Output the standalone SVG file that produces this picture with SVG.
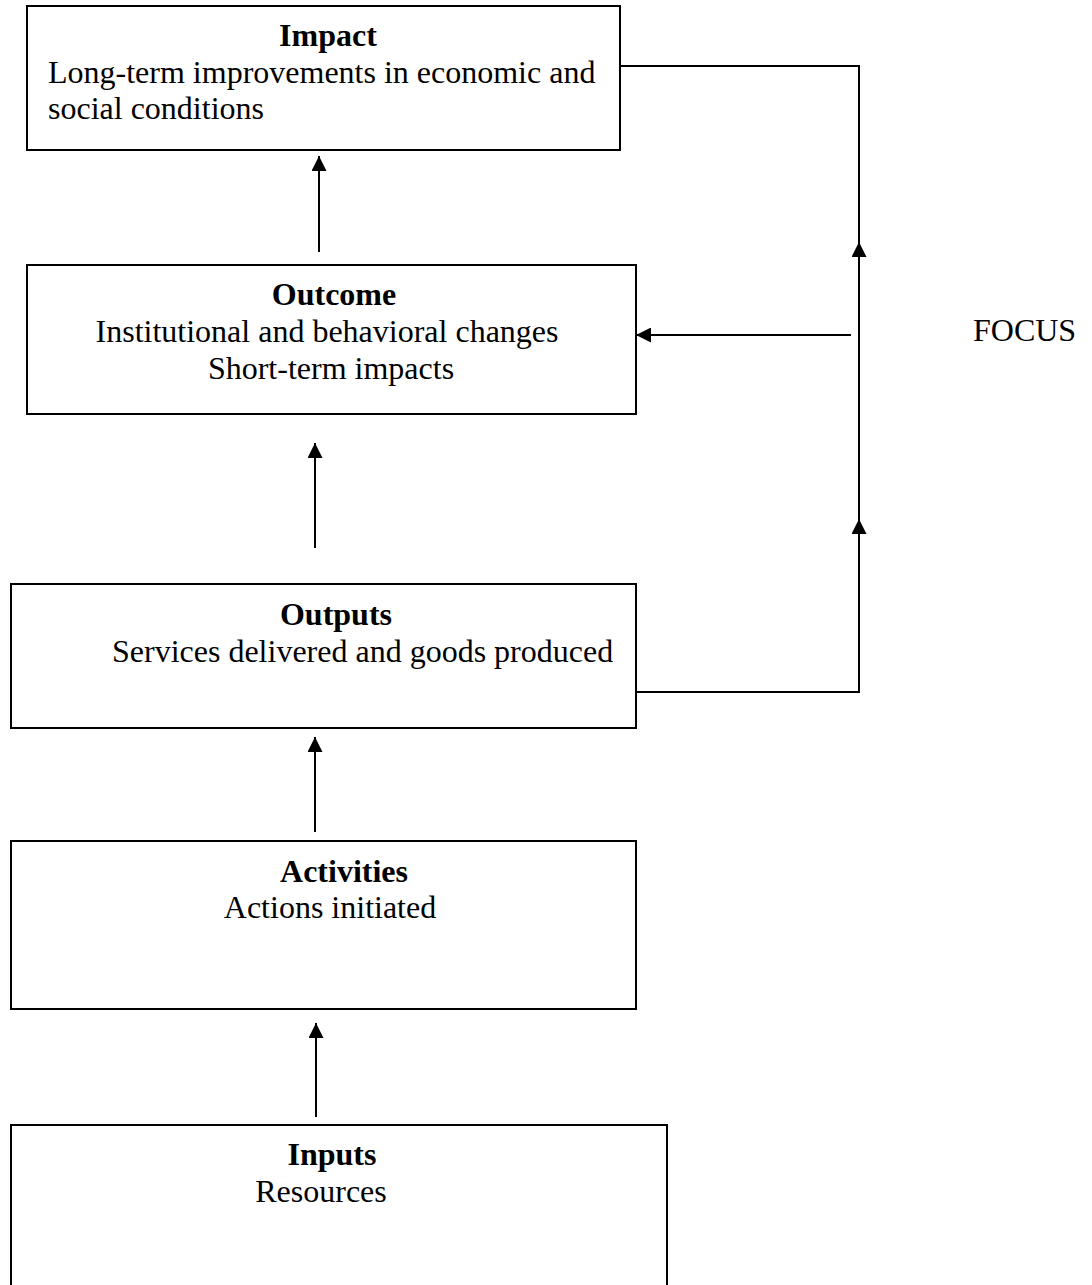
<svg xmlns="http://www.w3.org/2000/svg" width="1092" height="1285" viewBox="0 0 1092 1285">
<style>
.box{fill:#fff;stroke:#000;stroke-width:2}
.t{font-family:"Liberation Serif","Times New Roman",serif;font-size:32px;fill:#000}
.b{font-weight:bold}
.m{text-anchor:middle}
.c{fill:none;stroke:#000;stroke-width:2}
</style>
<defs>
<marker id="ah" viewBox="0 0 15 15" refX="15" refY="7.5" markerWidth="15" markerHeight="15" markerUnits="userSpaceOnUse" orient="auto">
<path d="M0,0 L15,7.5 L0,15 z" fill="#000"/>
</marker>
</defs>
<rect width="1092" height="1285" fill="#fff"/>
<g id="impact">
<rect class="box" x="27" y="6" width="593" height="144"/>
<text class="t b m" x="328" y="46">Impact</text>
<text class="t" x="48" y="83">Long-term improvements in economic and</text>
<text class="t" x="48" y="119">social conditions</text>
</g>
<g id="outcome">
<rect class="box" x="27" y="265" width="609" height="149"/>
<text class="t b m" x="334" y="305">Outcome</text>
<text class="t m" x="327" y="342">Institutional and behavioral changes</text>
<text class="t m" x="331" y="379">Short-term impacts</text>
</g>
<g id="outputs">
<rect class="box" x="11" y="584" width="625" height="144"/>
<text class="t b m" x="336" y="625">Outputs</text>
<text class="t" x="112" y="662">Services delivered and goods produced</text>
</g>
<g id="activities">
<rect class="box" x="11" y="841" width="625" height="168"/>
<text class="t b m" x="344" y="882">Activities</text>
<text class="t m" x="330" y="918">Actions initiated</text>
</g>
<g id="inputs">
<rect class="box" x="11" y="1125" width="656" height="200"/>
<text class="t b m" x="332" y="1165">Inputs</text>
<text class="t m" x="321" y="1202">Resources</text>
</g>
<g id="focus">
<text class="t" x="973" y="341">FOCUS</text>
</g>
<g id="connectors">
<path class="c" d="M319,252 V156" marker-end="url(#ah)"/>
<path class="c" d="M315,548 V443" marker-end="url(#ah)"/>
<path class="c" d="M315,832 V737" marker-end="url(#ah)"/>
<path class="c" d="M316,1117 V1023" marker-end="url(#ah)"/>
<path class="c" d="M636,692 H859 V519" marker-end="url(#ah)"/>
<path class="c" d="M859,519 V242" marker-end="url(#ah)"/>
<path class="c" d="M859,242 V66 H620"/>
<path class="c" d="M851,335 H636" marker-end="url(#ah)"/>
</g>
</svg>
